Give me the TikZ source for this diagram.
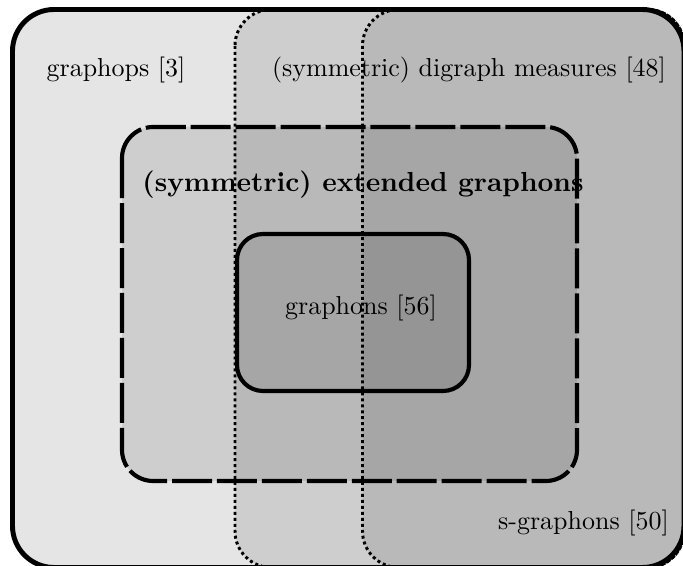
\documentclass[tikz,border=0pt]{standalone}
\begin{document}
\begin{tikzpicture}[x=0.385pt,y=-0.385pt,
  setfill/.style={fill=black,fill opacity=0.1},
  outerset/.style={setfill,draw=black,line width=1.9pt,rounded corners=16pt},
  dotset/.style={setfill,draw=black,line width=1.15pt,dash pattern=on 1.15pt off 1.15pt,rounded corners=14pt},
  dashset/.style={setfill,draw=black,line width=1.6pt,dash pattern=on 15.4pt off 1.9pt,rounded corners=12pt},
  innerset/.style={setfill,draw=black,line width=1.6pt,rounded corners=10pt},
  lbl/.style={inner sep=0pt,font=\normalsize}]
\useasboundingbox (0,0) rectangle (683,566);
\begin{scope}
\clip (0,0) rectangle (683,566);
\coordinate (o1) at (12.5,9.5);  \coordinate (o2) at (684,567.5);
\coordinate (a1) at (235,9.5);   \coordinate (a2) at (684,567.5);
\coordinate (b1) at (362.5,9.5); \coordinate (b2) at (684,567.5);
\coordinate (d1) at (122,127);   \coordinate (d2) at (577,481);
\coordinate (i1) at (237,234);   \coordinate (i2) at (469,391);
\draw[outerset] (o1) rectangle (o2);
\draw[dotset] (a1) rectangle (a2);
\draw[dotset] (b1) rectangle (b2);
\draw[dashset] (d1) rectangle (d2);
\draw[innerset] (i1) rectangle (i2);
\end{scope}
\node[lbl] (graphops) at (116,70) {graphops [3]};
\node[lbl] (digraph) at (469,70) {(symmetric) digraph measures [48]};
\node[lbl,font=\fontsize{10.6}{12}\selectfont\bfseries] (extended) at (363,185) {(symmetric) extended graphons};
\node[lbl] (graphons) at (361,308) {graphons [56]};
\node[lbl] (sgraphons) at (583.5,523) {s-graphons [50]};
\end{tikzpicture}
\end{document}
